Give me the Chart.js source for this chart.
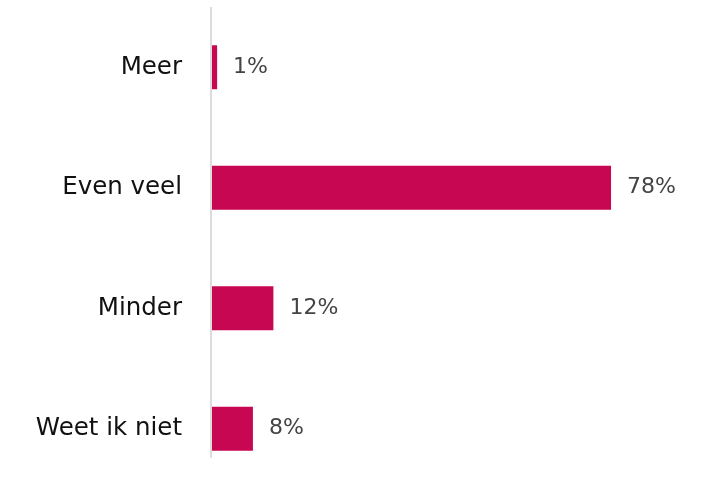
<!DOCTYPE html>
<html lang="nl">
<head>
  <meta charset="UTF-8">
  <title>Meer / minder</title>
  <script src="https://cdn.jsdelivr.net/npm/chart.js"></script>
  <style>
    html, body { margin: 0; padding: 0; background: #fff; overflow: hidden; }
    canvas { display: block; }
  </style>
</head>
<body>
  <canvas id="barChart" width="701" height="490"></canvas>

  <script>
    // categorieën en percentages
    const categories = ['Meer', 'Even veel', 'Minder', 'Weet ik niet'];
    const percentages = [1, 78, 12, 8];
    const xMax = 95;

    const barColor = '#c70751';
    const fontFamily = '"DejaVu Sans", Verdana, sans-serif';

    // waarde-labels rechts van de balken
    const valueLabels = {
      id: 'valueLabels',
      afterDatasetsDraw(chart) {
        const ctx = chart.ctx;
        const meta = chart.getDatasetMeta(0);
        ctx.save();
        ctx.font = '22px ' + fontFamily;
        ctx.fillStyle = '#444444';
        ctx.textAlign = 'left';
        ctx.textBaseline = 'middle';
        meta.data.forEach((bar, i) => {
          ctx.fillText(percentages[i] + '%', bar.x + 16, bar.y);
        });
        ctx.restore();
      }
    };

    // verticale aslijn, stopt even onder de laatste balk
    const axisLine = {
      id: 'axisLine',
      beforeDatasetsDraw(chart) {
        const ctx = chart.ctx;
        const last = chart.getDatasetMeta(0).data[categories.length - 1];
        const bottom = last.y + last.height / 2 + 7;
        ctx.save();
        ctx.strokeStyle = '#dcdcdc';
        ctx.lineWidth = 2;
        ctx.beginPath();
        ctx.moveTo(chart.chartArea.left - 1, chart.chartArea.top);
        ctx.lineTo(chart.chartArea.left - 1, bottom);
        ctx.stroke();
        ctx.restore();
      }
    };

    const ctx = document.getElementById('barChart').getContext('2d');
    const chart = new Chart(ctx, {
      type: 'bar',
      data: {
        labels: categories,
        datasets: [{
          data: percentages,
          backgroundColor: barColor,
          borderWidth: 0,
          categoryPercentage: 1,
          barPercentage: 0.365
        }]
      },
      options: {
        indexAxis: 'y',
        responsive: false,
        maintainAspectRatio: false,
        animation: false,
        devicePixelRatio: 1,
        layout: { padding: { top: 7, bottom: 1, left: 0, right: 3 } },
        plugins: {
          legend: { display: false },
          tooltip: { enabled: false }
        },
        scales: {
          x: {
            display: false,
            min: 0,
            max: xMax
          },
          y: {
            afterFit(scale) {
              scale.width = 212;
              // geen extra ruimte boven/onder voor de labels
              scale.paddingTop = 0;
              scale.paddingBottom = 0;
            },
            border: { display: false },
            grid: { display: false, drawTicks: false },
            ticks: {
              padding: 30,
              color: '#111111',
              font: { family: fontFamily, size: 24.5 }
            }
          }
        }
      },
      plugins: [axisLine, valueLabels]
    });
  </script>
</body>
</html>
